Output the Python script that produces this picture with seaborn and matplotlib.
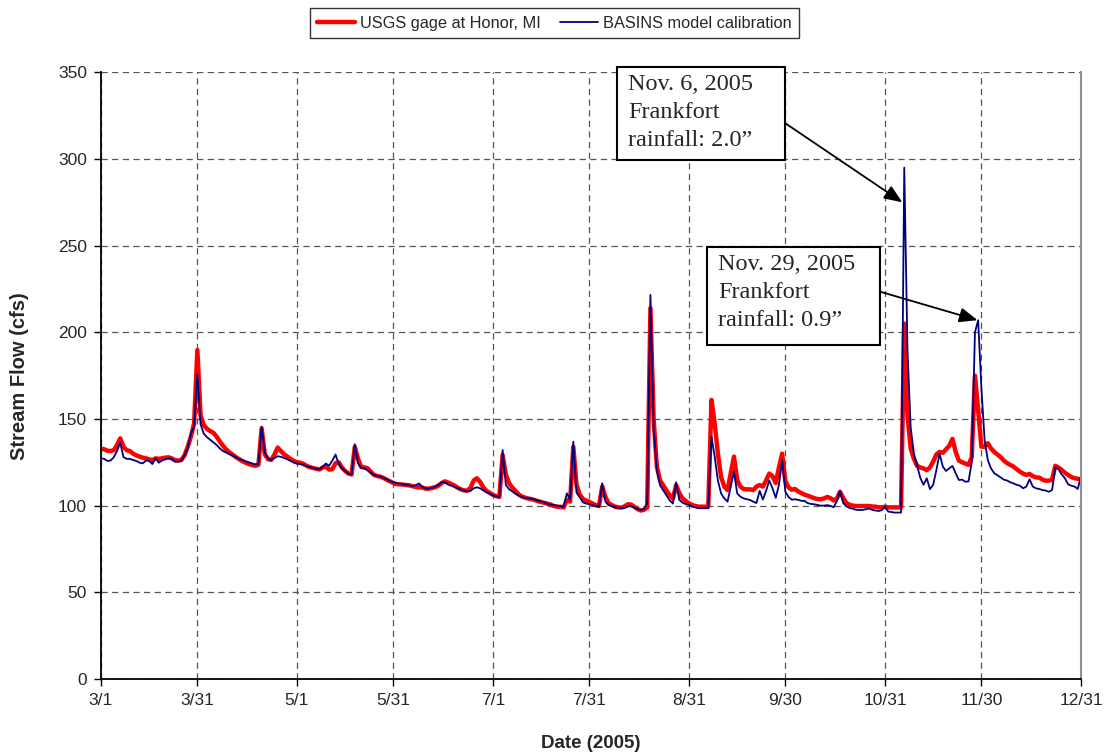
import numpy as np
import pandas as pd
import matplotlib
matplotlib.use('Agg')
import matplotlib.pyplot as plt
import matplotlib.dates as mdates
from matplotlib.patches import Rectangle
import seaborn as sns

# daily flow, 3/1/2005 - 12/31/2005 (cfs)
usgs_flow = [
    133, 132.5, 131.7, 131.5, 132, 135, 138.8, 134, 132, 131.5,
    130, 129, 128.3, 127.7, 127.3, 126.7, 126.3, 127.3, 127, 127.3,
    127.7, 127.9, 127.3, 126.3, 126, 126.3, 129, 134, 139.8, 147.5,
    189.8, 152, 146.5, 144.3, 143, 142, 139.8, 137, 134.5, 132.3,
    130.8, 129.4, 128, 126.8, 125.7, 124.8, 124, 123.4, 123, 123.5,
    144.6, 129.5, 126.8, 126.4, 129.5, 133.5, 131.5, 129.6, 128.3, 126.9,
    125.8, 125, 124.8, 124.1, 123, 122.2, 121.7, 121.3, 120.9, 122,
    122.5, 120.8, 121, 124.5, 125, 122, 120, 118.5, 118, 134,
    127, 122.3, 122.1, 121.5, 119.5, 117.7, 117.1, 116.7, 115.9, 114.9,
    114, 113, 112.4, 112.3, 112.1, 111.9, 111.7, 111.2, 110.8, 110.5,
    110.5, 109.8, 109.8, 110.2, 110.7, 111.5, 113, 114, 113.4, 112.5,
    111.6, 110.4, 109.4, 108.8, 108.7, 110.3, 114.5, 115.8, 113.7, 110.5,
    108.5, 107.4, 106.2, 105.5, 105, 129.2, 118, 113, 110.5, 108.5,
    106.5, 105.3, 104.6, 104.1, 103.7, 103.2, 102.6, 102.1, 101.6, 101.1,
    100.6, 99.7, 99.4, 99.3, 99, 103.3, 102.3, 134, 112, 106.5,
    103.8, 103, 102.2, 101.2, 100.3, 99.8, 111, 105, 101.3, 100.3,
    99.4, 99, 98.9, 99.6, 100.8, 100.6, 99.3, 98, 97.2, 97.6,
    99, 214, 150, 122.5, 114.5, 111.6, 108.8, 106, 104, 111.9,
    107.1, 104.2, 102.7, 101.3, 100.4, 99.8, 99.4, 99.4, 99.4, 99.4,
    161, 147.5, 130, 116.5, 111, 109, 118.7, 128.3, 114.8, 111,
    109.6, 109.4, 109.4, 109, 111, 111.9, 111, 114.5, 118.5, 117,
    113, 122, 130, 114, 110.5, 109.2, 109.6, 108.2, 107.2, 106.3,
    105.7, 105, 104.3, 103.8, 103.7, 104.1, 105, 104.4, 103, 104,
    108, 104.5, 101.5, 100.5, 100, 99.8, 99.8, 99.8, 99.8, 99.8,
    99.5, 99.4, 99, 99, 99.4, 99, 99, 99, 99, 99,
    205, 152, 133, 127, 123, 122, 121.5, 120.5, 122, 125.5,
    129.5, 131, 130.5, 132.5, 134.5, 138.5, 131, 126, 125, 124.3,
    123.5, 128, 175, 155, 134, 134, 136, 133, 131, 129.5,
    128, 126, 124.5, 123.5, 122.5, 121, 119.6, 118.5, 117.7, 118.3,
    117, 116.3, 116.2, 115, 114.4, 114.4, 115, 123, 122, 120.6,
    119, 117.7, 116.5, 115.8, 115.5, 115.2,
]

basins_flow = [
    127.3, 127, 125.8, 126, 128, 131.5, 136.3, 128, 127, 127,
    126.3, 125.8, 124.8, 124.4, 126, 125.8, 124, 127.3, 124.8, 126,
    126.7, 127.3, 127, 125.4, 125.4, 126, 129, 133, 141.7, 145.6,
    175.8, 147, 141.5, 139.5, 138, 136.5, 135, 133, 131.5, 130.6,
    129.6, 128.8, 128, 127, 126.3, 125.6, 125, 124.4, 123.8, 124,
    145.6, 130.5, 127.3, 126.3, 127.5, 128.5, 128.2, 127.5, 126.7, 125.8,
    124.9, 124.2, 124, 123.5, 122.8, 122.3, 121.8, 121.3, 120.9, 122.5,
    124.3, 123, 126, 129.5, 124, 121.5, 120, 118.5, 118, 135.4,
    124.5, 121.7, 121.5, 120.3, 119, 117.6, 117.1, 116.7, 115.9, 115.1,
    114.2, 113.5, 113, 112.7, 112.4, 112.1, 111.7, 111.2, 111.8, 112.8,
    110.8, 110, 109.8, 110.2, 110.9, 112, 113.5, 113.5, 112.2, 111.5,
    110.8, 110, 109.4, 108.7, 108.1, 108.5, 110, 110.6, 110, 108.8,
    107.7, 106.9, 105.9, 105.5, 105, 132.1, 112, 109.5, 108.2, 106.8,
    105.8, 105, 104.5, 104.2, 104.1, 103.6, 102.8, 102.5, 101.8, 101.1,
    100.7, 100.3, 100, 99.7, 99.4, 107.1, 103.3, 136.9, 107.5, 104.8,
    101.9, 101.2, 100.8, 100.3, 99.8, 99.4, 112.9, 102.2, 100.4, 99.8,
    99, 98.8, 98.5, 98.7, 99.5, 99.7, 98.9, 98, 97.5, 98,
    101.5, 221.6, 145, 120.6, 111.7, 108.8, 105.9, 103, 101.2, 113.5,
    103.3, 101.7, 100.9, 100.4, 99.4, 99, 98.5, 98.5, 98.5, 98.5,
    139.8, 128.3, 114.5, 107, 104.2, 102.3, 111, 119.6, 107.1, 105.2,
    104.2, 103.7, 103.3, 102.3, 101.5, 108.5, 103.5, 108.5, 114.5, 110,
    104.5, 112, 126, 108, 105, 103.4, 103.7, 103.3, 102.8, 102.7,
    101.4, 101, 100.8, 100.4, 100, 100, 100.3, 99.9, 99.1, 102.5,
    108.5, 101.5, 99.6, 98.6, 98.2, 97.6, 97.5, 97.5, 97.9, 98.4,
    97.6, 97.2, 96.9, 97.4, 99.4, 96.6, 96.3, 96, 96, 96,
    295, 190, 145, 130, 123, 116, 112, 115.8, 109.5, 112,
    120.6, 130, 122.5, 120, 121.5, 122.9, 118.7, 114.8, 115, 113.8,
    114, 125, 200, 207, 168, 138, 126.3, 121.5, 118.7, 117.5,
    116.3, 115, 114.5, 113.5, 112.8, 112, 111.5, 110, 111, 115.2,
    111, 110, 109.6, 109, 108.7, 108, 109, 122, 121, 118,
    115.8, 112.3, 111.5, 111, 109.6, 117,
]

tick_dates = ['2005-03-01', '2005-03-31', '2005-05-01', '2005-05-31', '2005-07-01',
              '2005-07-31', '2005-08-31', '2005-09-30', '2005-10-31', '2005-11-30',
              '2005-12-31']
tick_labels = ['3/1', '3/31', '5/1', '5/31', '7/1', '7/31', '8/31', '9/30',
               '10/31', '11/30', '12/31']
y_ticks = [0, 50, 100, 150, 200, 250, 300, 350]

note_nov6 = 'Nov. 6, 2005\nFrankfort\nrainfall: 2.0\u201d'
note_nov29 = 'Nov. 29, 2005\nFrankfort\nrainfall: 0.9\u201d'

dates = pd.date_range('2005-03-01', '2005-12-31', freq='D')
df = pd.DataFrame({'date': dates, 'usgs': usgs_flow, 'basins': basins_flow})

sns.set_style('white')
plt.rcParams['font.family'] = ['Liberation Sans', 'DejaVu Sans']

fig = plt.figure(figsize=(11.07, 7.55), dpi=100)
ax = fig.add_axes([0.0912, 0.1007, 0.8853, 0.8035])

sns.lineplot(data=df, x='date', y='usgs', color='#ff0000', lw=3.2,
             label='USGS gage at Honor, MI', ax=ax)
sns.lineplot(data=df, x='date', y='basins', color='#000080', lw=1.3,
             label='BASINS model calibration', ax=ax)

ax.set_xlim(dates[0], dates[-1])
ax.set_ylim(0, 350)
ax.set_xticks(pd.to_datetime(tick_dates))
ax.set_xticklabels(tick_labels)
ax.set_yticks(y_ticks)
ax.grid(True, ls=(0, (5, 3.5)), color='#555555', lw=0.9)
ax.tick_params(axis='both', direction='out', length=5, width=1, color='black',
               labelsize=12.5, bottom=True, left=True, pad=5)

for side in ['left', 'bottom']:
    ax.spines[side].set_color('black')
    ax.spines[side].set_linewidth(1.3)
ax.spines['top'].set_visible(False)
ax.spines['right'].set_color('#909090')
ax.spines['right'].set_linewidth(1.5)

ax.set_xlabel('Date (2005)', fontsize=13.5, fontweight='bold', va='center')
ax.set_ylabel('Stream Flow (cfs)', fontsize=14.5, fontweight='bold', va='center')
ax.xaxis.set_label_coords(0.5, -0.106)
ax.yaxis.set_label_coords(-0.083, 0.5)

handles, labels = ax.get_legend_handles_labels()
ax.get_legend().remove()
leg = fig.legend(handles, labels, loc='center', bbox_to_anchor=(0.501, 0.9695),
                 ncol=2, fontsize=11.8, frameon=True, fancybox=False,
                 edgecolor='black', handlelength=2.3, handletextpad=0.3,
                 columnspacing=1.2, borderpad=0.45)
leg.get_frame().set_linewidth(1.0)

# annotation boxes pointing at the two model peaks
serif = ['Liberation Serif', 'DejaVu Serif']
i6 = int(np.argmax(basins_flow))
i29 = 265 + int(np.argmax(basins_flow[265:290]))
x6 = mdates.date2num(dates[i6])
x29 = mdates.date2num(dates[i29])

for (bx, by, bw, bh) in [(0.5265, 0.8555, 0.1715, 0.1533),
                         (0.6184, 0.5505, 0.1765, 0.1615)]:
    ax.add_patch(Rectangle((bx, by), bw, bh, transform=ax.transAxes,
                           facecolor='white', edgecolor='black', lw=1.5,
                           clip_on=False, zorder=5))

ax.text(0.5378, 0.9975, note_nov6, transform=ax.transAxes, ha='left', va='top',
        fontsize=17.5, family=serif, linespacing=1.45, zorder=6)
ax.text(0.6296, 0.7005, note_nov29, transform=ax.transAxes, ha='left', va='top',
        fontsize=17.5, family=serif, linespacing=1.45, zorder=6)

arrow = dict(arrowstyle='-|>,head_length=1.1,head_width=0.45', color='black',
             lw=1.3, shrinkA=0, shrinkB=0)
ax.annotate('', xy=(x6 - 0.6, basins_flow[i6] - 20), xycoords='data',
            xytext=(0.698, 0.9164), textcoords='axes fraction', arrowprops=arrow,
            zorder=7)
ax.annotate('', xy=(x29 - 0.2, basins_flow[i29]), xycoords='data',
            xytext=(0.795, 0.6384), textcoords='axes fraction', arrowprops=arrow,
            zorder=7)

fig.savefig('out.png', dpi=100)
